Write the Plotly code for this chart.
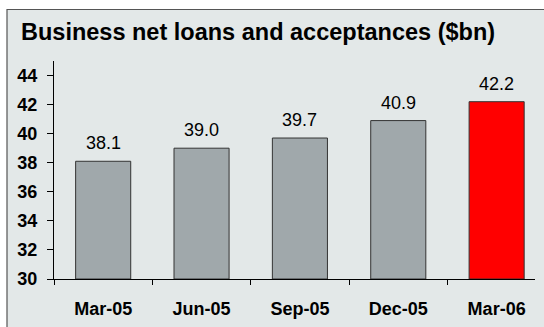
import plotly.graph_objects as go

# Quarterly business net loans and acceptances, $bn
quarters = ["Mar-05", "Jun-05", "Sep-05", "Dec-05", "Mar-06"]
loans_bn = [38.1, 39.0, 39.7, 40.9, 42.2]
bar_colors = ["#a0a8ab", "#a0a8ab", "#a0a8ab", "#a0a8ab", "#ff0000"]
y_ticks = [30, 32, 34, 36, 38, 40, 42, 44]
Y_BASE = 30

W, H = 544, 327
L, R, T, B = 54, 9, 61, 48
PW, PH = W - L - R, H - T - B


def px_x(x):
    return (x - L) / PW


def px_y(y):
    return (H - B - y) / PH


FONT = "Liberation Sans, Arial, sans-serif"

fig = go.Figure()
# bars start at the bottom of the value axis (30)
fig.add_trace(go.Bar(
    x=quarters,
    y=[v - Y_BASE for v in loans_bn],
    base=Y_BASE,
    width=0.56,
    marker=dict(color=bar_colors, line=dict(color="#333333", width=1)),
    hoverinfo="skip",
))

# bar values written above each bar
for q, v in zip(quarters, loans_bn):
    fig.add_annotation(
        x=q, y=v, text=f"{v:.1f}", showarrow=False,
        yanchor="bottom", yshift=6,
        font=dict(family=FONT, size=18, color="#000000"),
    )

# panel background with thin border on the top and left
fig.add_shape(
    type="rect", xref="paper", yref="paper",
    x0=px_x(7), x1=px_x(W + 20), y0=px_y(H + 20), y1=px_y(9.5),
    fillcolor="#e3e8e8", line=dict(color="#555555", width=1.2),
    layer="below",
)

fig.update_layout(
    width=W, height=H,
    margin=dict(l=L, r=R, t=T, b=B, pad=0),
    paper_bgcolor="#ffffff",
    plot_bgcolor="rgba(0,0,0,0)",
    showlegend=False,
    title=dict(
        text="<b>Business net loans and acceptances ($bn)</b>",
        xref="container", yref="container",
        x=21 / W, xanchor="left",
        y=1 - 32 / H, yanchor="middle",
        font=dict(family=FONT, size=23.5, color="#000000"),
    ),
    xaxis=dict(
        type="category",
        range=[-0.5, 4.39],
        showline=True, linecolor="#000000", linewidth=1,
        ticks="outside", tickson="boundaries", ticklen=5,
        tickcolor="#000000", tickwidth=1,
        ticklabelstandoff=13,
        showgrid=False, zeroline=False,
        tickfont=dict(family=FONT, size=18, color="#000000", weight="bold"),
    ),
    yaxis=dict(
        range=[30, 45],
        tickvals=y_ticks,
        ticktext=[str(t) for t in y_ticks],
        showline=True, linecolor="#000000", linewidth=1,
        ticks="outside", ticklen=6, tickcolor="#000000", tickwidth=1,
        ticklabelstandoff=6,
        showgrid=False, zeroline=False,
        tickfont=dict(family=FONT, size=18, color="#000000", weight="bold"),
    ),
)

fig.write_html("out.html")
